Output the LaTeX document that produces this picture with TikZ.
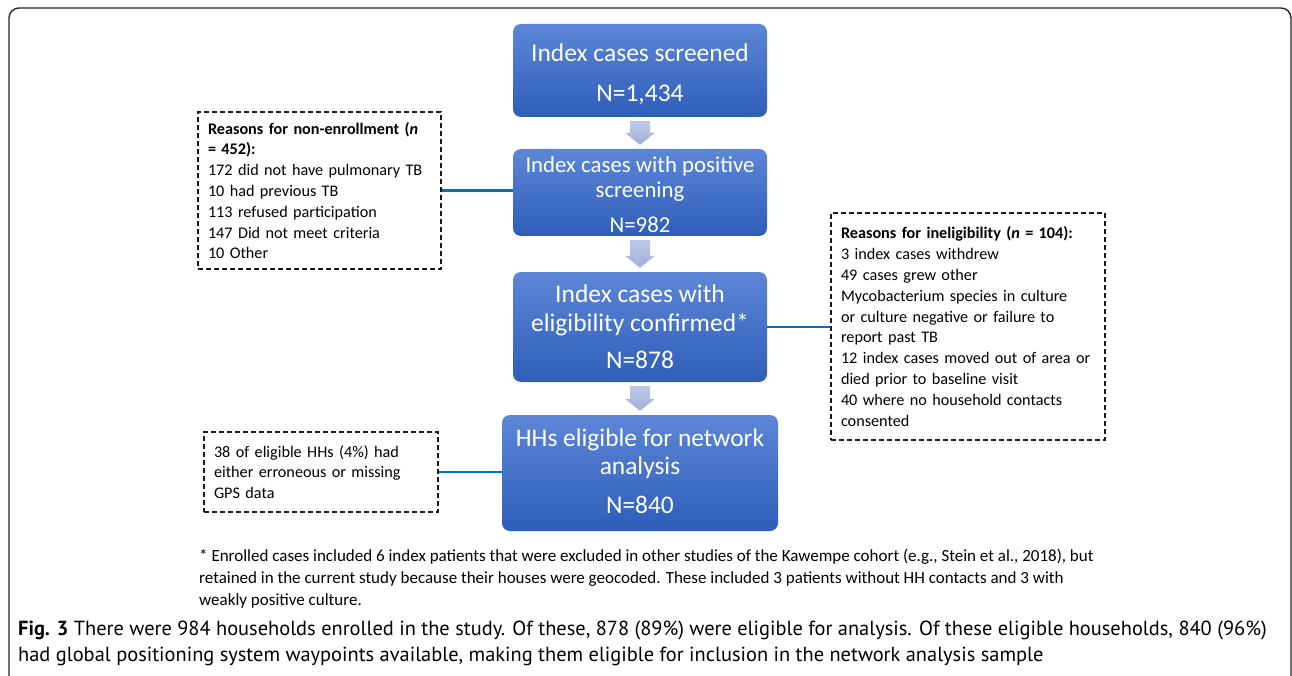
\documentclass[tikz,border=0pt]{standalone}
\usepackage{fontspec}
\setmainfont{Carlito}
\newfontfamily\capfont{PT Sans}
\usetikzlibrary{calc}
\definecolor{boxtop}{RGB}{93,134,214}
\definecolor{boxbot}{RGB}{46,94,185}
\definecolor{linkblue}{RGB}{0,112,192}
\definecolor{arrowtop}{RGB}{190,201,230}
\definecolor{arrowbot}{RGB}{160,176,218}
\tikzset{
  bluebox/.style={rounded corners=8pt, top color=boxtop, bottom color=boxbot,
    draw=none, inner sep=0pt},
  boxtext/.style={text=white, align=center, inner sep=0pt},
  notebox/.style={draw=black!90, dash pattern=on 5pt off 3pt, line width=1.2pt, align=left,
    inner xsep=10pt, inner ysep=0pt, font=\fontsize{16.2}{20.8}\selectfont},
  link/.style={draw=linkblue, line width=2.6pt},
  arrowfill/.style={top color=arrowtop, bottom color=arrowbot, draw=none}
}
\newcommand\blkarrow[2]{%
  \path[arrowfill] let \p1=($(#1.south)+(0,4)$), \p2=($(#2.north)+(0,-4)$) in
    (\x1-10pt,\y1) -- (\x1+10pt,\y1) -- (\x1+10pt,\y2+12pt) -- (\x1+15pt,\y2+12pt)
    -- (\x1,\y2) -- (\x1-15pt,\y2+12pt) -- (\x1-10pt,\y2+12pt) -- cycle;}
\begin{document}
\begin{tikzpicture}[x=1pt,y=-1pt]
\useasboundingbox (0,0) rectangle (1292,676);
\fill[white] (0,0) rectangle (1292,676);
% outer frame
\draw[line width=1.4pt, black!85, rounded corners=10pt] (9,8) rectangle (1291,690);

% main boxes
\node[bluebox, minimum width=254pt, minimum height=93pt] (b1) at (640,70.5) {};
\node[boxtext, font=\fontsize{25.5}{29}\selectfont] (b1t) at ($(b1.center)+(0,3.5)$)
  {Index cases screened\\[11pt]N=1,434};
\node[bluebox, minimum width=254pt, minimum height=87pt] (b2) at (640,192.5) {};
\node[boxtext, font=\fontsize{22.8}{25}\selectfont] (b2t) at ($(b2.center)+(0,2.5)$)
  {Index cases with positive\\screening\\[10pt]N=982};
\node[bluebox, minimum width=254pt, minimum height=110pt] (b3) at (640,327) {};
\node[boxtext, font=\fontsize{25.5}{29}\selectfont] (b3t) at ($(b3.center)+(0,-0.5)$)
  {Index cases with\\eligibility confirmed*\\[8pt]N=878};
\node[bluebox, minimum width=276pt, minimum height=116pt] (b4) at (640,473) {};
\node[boxtext, font=\fontsize{25.4}{28}\selectfont] (b4t) at ($(b4.center)+(0,-2)$)
  {HHs eligible for network\\analysis\\[11pt]N=840};

% block arrows
\blkarrow{b1}{b2}
\blkarrow{b2}{b3}
\blkarrow{b3}{b4}

% side notes
\node[notebox, minimum width=243pt, minimum height=157pt, text width=223pt] (d1) at (319.5,190.5)
  {\textbf{Reasons for non-enrollment (\textit{n}}\\
   \textbf{= 452):}\\
   172 did not have pulmonary TB\\
   10 had previous TB\\
   113 refused participation\\
   147 Did not meet criteria\\
   10 Other};
\node[notebox, minimum width=274pt, minimum height=227pt, text width=254pt] (d2) at (968,326.5)
  {\textbf{Reasons for ineligibility (\textit{n} = 104):}\\
   3 index cases withdrew\\
   49 cases grew other\\
   Mycobacterium species in culture\\
   or culture negative or failure to\\
   report past TB\\
   12 index cases moved out of area or\\
   died prior to baseline visit\\
   40 where no household contacts\\
   consented};
\node[notebox, minimum width=234pt, minimum height=80pt, text width=214pt] (d3) at (321,472)
  {38 of eligible HHs (4\%) had\\
   either erroneous or missing\\
   GPS data};

% connectors
\draw[link] (d1.east) -- (d1.east -| b2.west);
\draw[link] (b3.east) -- (b3.east -| d2.west);
\draw[link] (d3.east) -- (d3.east -| b4.west);

% footnote
\node[anchor=north west, inner sep=0pt, align=left, font=\fontsize{17}{22}\selectfont] (fn) at (199,549)
  {* Enrolled cases included 6 index patients that were excluded in other studies of the Kawempe cohort (e.g., Stein et al., 2018), but\\
   retained in the current study because their houses were geocoded. These included 3 patients without HH contacts and 3 with\\
   weakly positive culture.};

% caption
\node[anchor=north west, inner sep=0pt, align=left, font=\capfont\fontsize{20.4}{25.5}\selectfont] (cap) at (18,621)
  {\textbf{Fig. 3} There were 984 households enrolled in the study. Of these, 878 (89\%) were eligible for analysis. Of these eligible households, 840 (96\%)\\
   had global positioning system waypoints available, making them eligible for inclusion in the network analysis sample};
\end{tikzpicture}
\end{document}
